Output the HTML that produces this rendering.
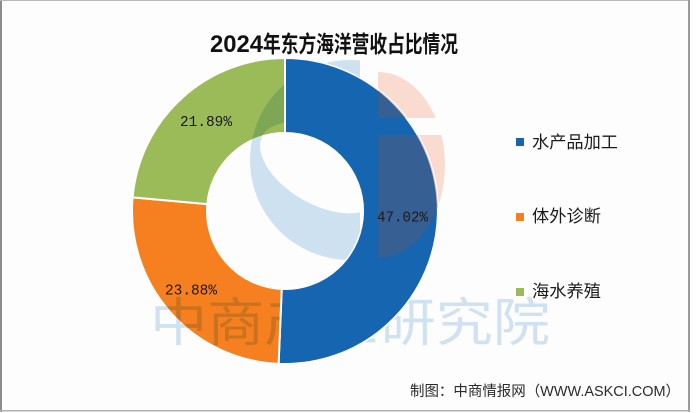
<!DOCTYPE html>
<html><head><meta charset="utf-8"><style>
html,body{margin:0;padding:0;background:#fff;}
svg{display:block;}
</style></head><body>
<svg width="700" height="413" viewBox="0 0 700 413" xmlns="http://www.w3.org/2000/svg">
<defs>
<clipPath id="peachClip">
<rect x="378" y="60" width="80" height="58"/>
<rect x="378" y="135" width="80" height="130"/>
</clipPath>
<clipPath id="leftCut"><rect x="0" y="0" width="360" height="413"/></clipPath>
<clipPath id="blueClip">
<path d="M285,58 A153,153 0 1,1 278.59,363.87 L281.73,288.93 A78,78 0 1,0 285,133 Z"/>
</clipPath>
<mask id="noBlue" maskUnits="userSpaceOnUse" x="0" y="0" width="700" height="413">
<rect x="0" y="0" width="700" height="413" fill="#fff"/>
<path d="M285,58 A153,153 0 1,1 278.59,363.87 L281.73,288.93 A78,78 0 1,0 285,133 Z" fill="#000" stroke="#000" stroke-width="1"/>
</mask>
</defs>
<rect x="0" y="0" width="700" height="413" fill="#fff"/>
<rect x="1" y="1" width="688" height="410" fill="#fdfdfe"/>
<!-- frame -->
<rect x="0" y="0" width="2" height="412" fill="#8c8c8c"/>
<rect x="0" y="0" width="690" height="1" fill="#b8b8b8"/>
<rect x="688" y="0" width="2" height="412" fill="#9a9a9a"/>
<rect x="0" y="410" width="690" height="1.5" fill="#b0b0b0"/>

<!-- peach logo part (under chart) -->
<ellipse cx="378" cy="165" rx="67" ry="93" fill="#f9dccf" clip-path="url(#peachClip)"/>

<!-- donut -->
<g stroke="#fff" stroke-width="2" stroke-linejoin="round">
<path d="M285,58 A153,153 0 1,1 278.59,363.87 L281.73,288.93 A78,78 0 1,0 285,133 Z" fill="#1665b0"/>
<path d="M278.59,363.87 A153,153 0 0,1 132.61,197.40 L207.31,204.07 A78,78 0 0,0 281.73,288.93 Z" fill="#f68020"/>
<path d="M132.61,197.40 A153,153 0 0,1 285,58 L285,133 A78,78 0 0,0 207.31,204.07 Z" fill="#9bbb59"/>
</g>

<!-- slate overlay of peach on blue -->
<g clip-path="url(#blueClip)">
<ellipse cx="378" cy="165" rx="67" ry="93" fill="rgba(115,85,95,0.35)" clip-path="url(#peachClip)"/>
</g>

<!-- light blue watermark (multiply), hidden on blue slice -->
<g mask="url(#noBlue)" style="mix-blend-mode:multiply">
<g clip-path="url(#leftCut)">
<path fill-rule="evenodd" fill="#d0e3f2" d="M250,160 A100,100 0 1,0 450,160 A100,100 0 1,0 250,160 Z M262.84,135 A66,36 30 1,0 377.16,201 A66,36 30 1,0 262.84,135 Z"/>
</g>
<text x="150" y="341" font-family="'Liberation Sans','Noto Sans CJK SC',sans-serif" font-size="52" fill="#d2e4f2" textLength="400" lengthAdjust="spacingAndGlyphs">中商产业研究院</text>
</g>

<!-- labels -->
<g font-family="'Liberation Mono',monospace" font-size="15" fill="#1a1a1a">
<text x="180" y="126" textLength="52" lengthAdjust="spacingAndGlyphs">21.89%</text>
<text x="377" y="221.5" textLength="51" lengthAdjust="spacingAndGlyphs">47.02%</text>
<text x="165" y="294.5" textLength="52" lengthAdjust="spacingAndGlyphs">23.88%</text>
</g>

<!-- title -->
<text x="210" y="52" font-family="'Liberation Sans',sans-serif" font-weight="bold" font-size="24" fill="#111" textLength="53" lengthAdjust="spacingAndGlyphs">2024</text>
<text x="263" y="52" font-family="'Liberation Sans','Noto Sans CJK SC',sans-serif" font-weight="bold" font-size="23" fill="#111" textLength="195" lengthAdjust="spacingAndGlyphs">年东方海洋营收占比情况</text>

<!-- legend -->
<rect x="516" y="138" width="8" height="8" fill="#1665b0"/>
<rect x="516" y="213" width="8" height="8" fill="#f68020"/>
<rect x="516" y="288" width="8" height="8" fill="#9bbb59"/>
<g font-family="'Liberation Sans','Noto Sans CJK SC',sans-serif" font-size="17" fill="#1a1a1a">
<text x="532" y="148" textLength="86" lengthAdjust="spacingAndGlyphs">水产品加工</text>
<text x="532" y="222" textLength="69" lengthAdjust="spacingAndGlyphs">体外诊断</text>
<text x="532" y="297" textLength="69" lengthAdjust="spacingAndGlyphs">海水养殖</text>
</g>

<!-- footer -->
<text x="410" y="396" font-family="'Liberation Sans','Noto Sans CJK SC',sans-serif" font-size="14.5" fill="#2a2a2a" textLength="270" lengthAdjust="spacingAndGlyphs">制图：中商情报网（WWW.ASKCI.COM）</text>
</svg>
</body></html>
